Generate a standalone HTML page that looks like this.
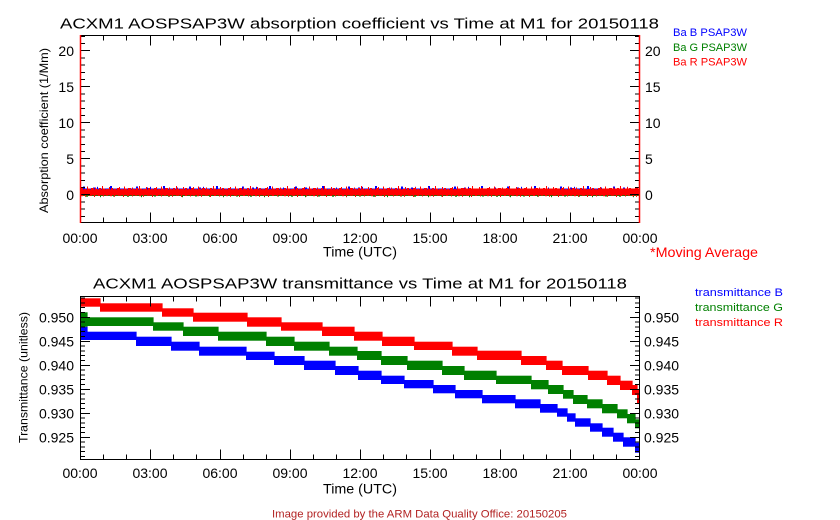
<!DOCTYPE html>
<html><head><meta charset="utf-8"><style>
html,body{margin:0;padding:0;background:#fff;}
svg{display:block;}
text{font-family:"Liberation Sans",Arial,sans-serif;}
</style></head><body>
<svg width="840" height="520" viewBox="0 0 840 520" xmlns="http://www.w3.org/2000/svg">
<defs>
<pattern id="pRu" x="80" y="0" width="37" height="520" patternUnits="userSpaceOnUse">
<rect x="0" y="188" width="2" height="3" fill="#f00"/>
<rect x="2" y="187" width="1" height="4" fill="#f00"/>
<rect x="4" y="189" width="2" height="2" fill="#f00"/>
<rect x="7" y="186.5" width="1" height="4.5" fill="#f00"/>
<rect x="8" y="188.5" width="2" height="2.5" fill="#f00"/>
<rect x="11" y="188" width="3" height="3" fill="#f00"/>
<rect x="15" y="187.5" width="1" height="3.5" fill="#f00"/>
<rect x="16" y="189" width="2" height="2" fill="#f00"/>
<rect x="19" y="188" width="2" height="3" fill="#f00"/>
<rect x="22" y="186" width="1" height="5" fill="#f00"/>
<rect x="23" y="188.5" width="2" height="2.5" fill="#f00"/>
<rect x="26" y="189" width="3" height="2" fill="#f00"/>
<rect x="29" y="187" width="1" height="4" fill="#f00"/>
<rect x="31" y="188" width="2" height="3" fill="#f00"/>
<rect x="34" y="188.8" width="2" height="2.2" fill="#f00"/>
</pattern>
<pattern id="pRd" x="80" y="0" width="29" height="520" patternUnits="userSpaceOnUse">
<rect x="1" y="194" width="2" height="2.2" fill="#f00"/>
<rect x="5" y="194" width="1" height="2.8" fill="#f00"/>
<rect x="9" y="194" width="3" height="1.8" fill="#f00"/>
<rect x="14" y="194" width="1" height="3" fill="#f00"/>
<rect x="18" y="194" width="2" height="2" fill="#f00"/>
<rect x="23" y="194" width="1" height="2.5" fill="#f00"/>
<rect x="26" y="194" width="2" height="1.8" fill="#f00"/>
</pattern>
<pattern id="pB" x="80" y="0" width="53" height="520" patternUnits="userSpaceOnUse">
<rect x="3" y="186.5" width="2" height="4" fill="#00f"/>
<rect x="13" y="187.5" width="2" height="3" fill="#00f"/>
<rect x="17" y="186.8" width="1" height="3" fill="#00f"/>
<rect x="30" y="186" width="2" height="4" fill="#00f"/>
<rect x="44" y="187.5" width="1" height="3" fill="#00f"/>
</pattern>
<pattern id="pG" x="80" y="0" width="41" height="520" patternUnits="userSpaceOnUse">
<rect x="6" y="194" width="2" height="2.7" fill="#008000"/>
<rect x="20" y="194" width="1" height="3.2" fill="#008000"/>
<rect x="33" y="194" width="2" height="2.5" fill="#008000"/>
</pattern>
</defs>
<rect width="840" height="520" fill="#fff"/>

<!-- titles -->
<text x="60" y="28.5" font-size="15" textLength="599" lengthAdjust="spacingAndGlyphs" fill="#000">ACXM1 AOSPSAP3W absorption coefficient vs Time at M1 for 20150118</text>
<text x="93" y="288.5" font-size="15" textLength="534" lengthAdjust="spacingAndGlyphs" fill="#000">ACXM1 AOSPSAP3W transmittance vs Time at M1 for 20150118</text>

<!-- top plot data -->
<rect x="81" y="188.5" width="558" height="3" fill="#00f"/>
<rect x="81" y="193" width="558" height="3" fill="#008000"/>
<rect x="81" y="184" width="558" height="10" fill="url(#pB)"/>
<rect x="81" y="193" width="558" height="6" fill="url(#pG)"/>
<rect x="81" y="189.5" width="558" height="5.8" fill="#f00"/>
<rect x="460" y="188.5" width="100" height="2" fill="#f00"/>
<rect x="600" y="188.5" width="39" height="2" fill="#f00"/>
<rect x="81" y="184" width="558" height="8" fill="url(#pRu)"/>
<rect x="81" y="194.5" width="558" height="5" fill="url(#pRd)"/>

<!-- bottom data: blue -->
<g fill="#0000ff">
<rect x="80" y="326.7" width="7.6" height="13.3"/>
<rect x="87" y="331.7" width="49.6" height="8.3"/>
<rect x="136" y="336.7" width="35.6" height="9.3"/>
<rect x="171" y="341.7" width="28.6" height="9"/>
<rect x="199" y="346.7" width="47.6" height="9"/>
<rect x="246" y="351.7" width="28.6" height="8.3"/>
<rect x="274" y="356" width="30.6" height="9"/>
<rect x="304" y="360.7" width="31.6" height="9.3"/>
<rect x="335" y="366" width="23.6" height="9"/>
<rect x="358" y="370.7" width="23.6" height="9.3"/>
<rect x="381" y="375.7" width="23.6" height="8.3"/>
<rect x="404" y="380" width="29.6" height="8.3"/>
<rect x="433" y="385" width="22.6" height="8.3"/>
<rect x="455" y="390" width="27.6" height="8.3"/>
<rect x="482" y="395" width="33.6" height="8.3"/>
<rect x="515" y="399.3" width="25.6" height="9"/>
<rect x="540" y="404" width="17.6" height="8.7"/>
<rect x="557" y="408.3" width="10.6" height="8.4"/>
<rect x="567" y="413.3" width="8.6" height="8.4"/>
<rect x="575" y="418.3" width="15.6" height="8.4"/>
<rect x="590" y="423.3" width="12.6" height="8.4"/>
<rect x="602" y="427.7" width="11.6" height="9"/>
<rect x="613" y="432.7" width="10.6" height="9"/>
<rect x="623" y="437.3" width="12.6" height="9.4"/>
<rect x="635" y="442.7" width="5" height="10"/>
</g>
<!-- green -->
<g fill="#008000">
<rect x="80" y="312.3" width="7.6" height="14.4"/>
<rect x="87" y="317.3" width="66.6" height="8.7"/>
<rect x="153" y="322.3" width="30.6" height="8.4"/>
<rect x="183" y="326.7" width="35.6" height="9.3"/>
<rect x="218" y="331.7" width="48.6" height="9"/>
<rect x="266" y="336.7" width="28.6" height="9.3"/>
<rect x="294" y="341.7" width="35.6" height="9"/>
<rect x="329" y="346.7" width="28.6" height="9"/>
<rect x="357" y="351" width="24.6" height="9"/>
<rect x="381" y="356" width="26.6" height="9"/>
<rect x="407" y="360.7" width="35.6" height="9.3"/>
<rect x="442" y="366" width="22.6" height="9"/>
<rect x="464" y="370.7" width="32.6" height="9.3"/>
<rect x="496" y="375.7" width="35.6" height="8.3"/>
<rect x="531" y="380" width="17.6" height="9.3"/>
<rect x="548" y="385" width="15.6" height="9"/>
<rect x="563" y="390" width="10.6" height="8.7"/>
<rect x="573" y="395" width="14.6" height="9"/>
<rect x="587" y="399.3" width="15.6" height="9"/>
<rect x="602" y="404" width="15.6" height="9.3"/>
<rect x="617" y="409.3" width="10.6" height="9"/>
<rect x="627" y="414" width="8.6" height="9.3"/>
<rect x="635" y="419.3" width="5" height="9"/>
</g>
<!-- red -->
<g fill="#ff0000">
<rect x="80" y="298.3" width="20.6" height="8.4"/>
<rect x="100" y="303.3" width="62.6" height="8.4"/>
<rect x="162" y="308.3" width="31.6" height="8.4"/>
<rect x="193" y="312.7" width="54.6" height="9"/>
<rect x="247" y="317.3" width="34.6" height="9.4"/>
<rect x="281" y="322.3" width="41.6" height="8.4"/>
<rect x="322" y="326.7" width="32.6" height="9.3"/>
<rect x="354" y="331.7" width="28.6" height="9"/>
<rect x="382" y="336.7" width="32.6" height="9.3"/>
<rect x="414" y="341.7" width="38.6" height="8.3"/>
<rect x="452" y="346.7" width="25.6" height="9"/>
<rect x="477" y="350.7" width="44.6" height="9.3"/>
<rect x="521" y="356" width="25.6" height="9"/>
<rect x="546" y="360.7" width="16.6" height="9.3"/>
<rect x="562" y="366" width="26.6" height="9"/>
<rect x="588" y="370.7" width="19.6" height="9.3"/>
<rect x="607" y="375.7" width="13.6" height="9.3"/>
<rect x="620" y="380.7" width="12.6" height="9.3"/>
<rect x="632" y="385" width="5.6" height="10"/>
<rect x="637" y="390" width="3" height="13.3"/>
</g>

<!-- axes -->
<g stroke="#000" stroke-width="1" fill="none" shape-rendering="crispEdges">
<path d="M80,35.5H640M80,222.5H640"/>
<path d="M80,216.3h5M80,209.1h5M80,201.9h5M80,194.7h10M80,187.5h5M80,180.3h5M80,173.1h5M80,165.9h5M80,158.7h10M80,151.5h5M80,144.3h5M80,137.1h5M80,129.9h5M80,122.7h10M80,115.5h5M80,108.3h5M80,101.1h5M80,93.9h5M80,86.7h10M80,79.5h5M80,72.3h5M80,65.1h5M80,57.9h5M80,50.7h10M80,43.5h5M80,36.3h5"/>
<path d="M640,216.3h-5M640,209.1h-5M640,201.9h-5M640,194.7h-10M640,187.5h-5M640,180.3h-5M640,173.1h-5M640,165.9h-5M640,158.7h-10M640,151.5h-5M640,144.3h-5M640,137.1h-5M640,129.9h-5M640,122.7h-10M640,115.5h-5M640,108.3h-5M640,101.1h-5M640,93.9h-5M640,86.7h-10M640,79.5h-5M640,72.3h-5M640,65.1h-5M640,57.9h-5M640,50.7h-10M640,43.5h-5M640,36.3h-5"/>
<path d="M80.5,35.5v10M103.3,35.5v5M126.7,35.5v5M150.5,35.5v10M173.3,35.5v5M196.7,35.5v5M220.5,35.5v10M243.3,35.5v5M266.7,35.5v5M290.5,35.5v10M313.3,35.5v5M336.7,35.5v5M360.5,35.5v10M383.3,35.5v5M406.7,35.5v5M430.5,35.5v10M453.3,35.5v5M476.7,35.5v5M500.5,35.5v10M523.3,35.5v5M546.7,35.5v5M570.5,35.5v10M593.3,35.5v5M616.7,35.5v5M639.5,35.5v10"/>
<path d="M80.5,222.5v-10M103.3,222.5v-5M126.7,222.5v-5M150.5,222.5v-10M173.3,222.5v-5M196.7,222.5v-5M220.5,222.5v-10M243.3,222.5v-5M266.7,222.5v-5M290.5,222.5v-10M313.3,222.5v-5M336.7,222.5v-5M360.5,222.5v-10M383.3,222.5v-5M406.7,222.5v-5M430.5,222.5v-10M453.3,222.5v-5M476.7,222.5v-5M500.5,222.5v-10M523.3,222.5v-5M546.7,222.5v-5M570.5,222.5v-10M593.3,222.5v-5M616.7,222.5v-5M639.5,222.5v-10"/>

<path d="M80,296.5H640M80,459.5H640M80.5,296V460M639.5,296V460"/>
<path d="M80,456.5h5M80,451.7h5M80,446.9h5M80,442.1h5M80,437.3h10M80,432.5h5M80,427.7h5M80,422.9h5M80,418.1h5M80,413.3h10M80,408.5h5M80,403.7h5M80,398.9h5M80,394.1h5M80,389.3h10M80,384.5h5M80,379.7h5M80,374.9h5M80,370.1h5M80,365.3h10M80,360.5h5M80,355.7h5M80,350.9h5M80,346.1h5M80,341.3h10M80,336.5h5M80,331.7h5M80,326.9h5M80,322.1h5M80,317.3h10M80,312.5h5M80,307.7h5M80,302.9h5M80,298.1h5"/>
<path d="M640,456.5h-5M640,451.7h-5M640,446.9h-5M640,442.1h-5M640,437.3h-10M640,432.5h-5M640,427.7h-5M640,422.9h-5M640,418.1h-5M640,413.3h-10M640,408.5h-5M640,403.7h-5M640,398.9h-5M640,394.1h-5M640,389.3h-10M640,384.5h-5M640,379.7h-5M640,374.9h-5M640,370.1h-5M640,365.3h-10M640,360.5h-5M640,355.7h-5M640,350.9h-5M640,346.1h-5M640,341.3h-10M640,336.5h-5M640,331.7h-5M640,326.9h-5M640,322.1h-5M640,317.3h-10M640,312.5h-5M640,307.7h-5M640,302.9h-5M640,298.1h-5"/>
<path d="M80.5,296.5v10M103.3,296.5v5M126.7,296.5v5M150.5,296.5v10M173.3,296.5v5M196.7,296.5v5M220.5,296.5v10M243.3,296.5v5M266.7,296.5v5M290.5,296.5v10M313.3,296.5v5M336.7,296.5v5M360.5,296.5v10M383.3,296.5v5M406.7,296.5v5M430.5,296.5v10M453.3,296.5v5M476.7,296.5v5M500.5,296.5v10M523.3,296.5v5M546.7,296.5v5M570.5,296.5v10M593.3,296.5v5M616.7,296.5v5M639.5,296.5v10"/>
<path d="M80.5,459.5v-10M103.3,459.5v-5M126.7,459.5v-5M150.5,459.5v-10M173.3,459.5v-5M196.7,459.5v-5M220.5,459.5v-10M243.3,459.5v-5M266.7,459.5v-5M290.5,459.5v-10M313.3,459.5v-5M336.7,459.5v-5M360.5,459.5v-10M383.3,459.5v-5M406.7,459.5v-5M430.5,459.5v-10M453.3,459.5v-5M476.7,459.5v-5M500.5,459.5v-10M523.3,459.5v-5M546.7,459.5v-5M570.5,459.5v-10M593.3,459.5v-5M616.7,459.5v-5M639.5,459.5v-10"/>
</g>
<path d="M80.5,35V223M639.5,35V223" stroke="#ff0000" stroke-width="1.5" fill="none"/>

<g font-size="14" fill="#000">
<text x="74" y="56" text-anchor="end">20</text>
<text x="74" y="92" text-anchor="end">15</text>
<text x="74" y="128" text-anchor="end">10</text>
<text x="74" y="164" text-anchor="end">5</text>
<text x="74" y="200" text-anchor="end">0</text>
<text x="645" y="56">20</text>
<text x="645" y="92">15</text>
<text x="645" y="128">10</text>
<text x="645" y="164">5</text>
<text x="645" y="200">0</text>
</g>
<g font-size="14" fill="#000" text-anchor="middle">
<text x="80" y="243">00:00</text>
<text x="150" y="243">03:00</text>
<text x="220" y="243">06:00</text>
<text x="290" y="243">09:00</text>
<text x="360" y="243">12:00</text>
<text x="430" y="243">15:00</text>
<text x="500" y="243">18:00</text>
<text x="570" y="243">21:00</text>
<text x="640" y="243">00:00</text>
<text x="360" y="256.5" textLength="74" lengthAdjust="spacingAndGlyphs">Time (UTC)</text>
</g>
<text transform="translate(48,130.5) rotate(-90)" font-size="12" text-anchor="middle" textLength="165" lengthAdjust="spacingAndGlyphs" fill="#000">Absorption coefficient (1/Mm)</text>

<g font-size="11">
<text x="673" y="36" fill="#0000ff" textLength="74" lengthAdjust="spacingAndGlyphs">Ba  B  PSAP3W</text>
<text x="673" y="50.8" fill="#008000" textLength="74" lengthAdjust="spacingAndGlyphs">Ba  G  PSAP3W</text>
<text x="673" y="65.6" fill="#ff0000" textLength="74" lengthAdjust="spacingAndGlyphs">Ba  R  PSAP3W</text>
</g>
<text x="650" y="257" font-size="14" fill="#ff0000" textLength="108" lengthAdjust="spacingAndGlyphs">*Moving Average</text>

<g font-size="14" fill="#000">
<text x="74" y="322.5" text-anchor="end">0.950</text>
<text x="74" y="346.5" text-anchor="end">0.945</text>
<text x="74" y="370.5" text-anchor="end">0.940</text>
<text x="74" y="394.5" text-anchor="end">0.935</text>
<text x="74" y="418.5" text-anchor="end">0.930</text>
<text x="74" y="442.5" text-anchor="end">0.925</text>
<text x="644" y="322.5">0.950</text>
<text x="644" y="346.5">0.945</text>
<text x="644" y="370.5">0.940</text>
<text x="644" y="394.5">0.935</text>
<text x="644" y="418.5">0.930</text>
<text x="644" y="442.5">0.925</text>
</g>
<g font-size="14" fill="#000" text-anchor="middle">
<text x="80" y="478">00:00</text>
<text x="150" y="478">03:00</text>
<text x="220" y="478">06:00</text>
<text x="290" y="478">09:00</text>
<text x="360" y="478">12:00</text>
<text x="430" y="478">15:00</text>
<text x="500" y="478">18:00</text>
<text x="570" y="478">21:00</text>
<text x="640" y="478">00:00</text>
<text x="360" y="493.5" textLength="74" lengthAdjust="spacingAndGlyphs">Time (UTC)</text>
</g>
<text transform="translate(27.5,377.5) rotate(-90)" font-size="12" text-anchor="middle" textLength="131" lengthAdjust="spacingAndGlyphs" fill="#000">Transmittance (unitless)</text>

<g font-size="11">
<text x="695" y="296" fill="#0000ff" textLength="88" lengthAdjust="spacingAndGlyphs">transmittance B</text>
<text x="695" y="311" fill="#008000" textLength="88" lengthAdjust="spacingAndGlyphs">transmittance G</text>
<text x="695" y="326" fill="#ff0000" textLength="88" lengthAdjust="spacingAndGlyphs">transmittance R</text>
</g>

<text x="272" y="517.5" font-size="11" fill="#b22222" textLength="295" lengthAdjust="spacingAndGlyphs">Image provided by the ARM Data Quality Office: 20150205</text>
</svg>
</body></html>
